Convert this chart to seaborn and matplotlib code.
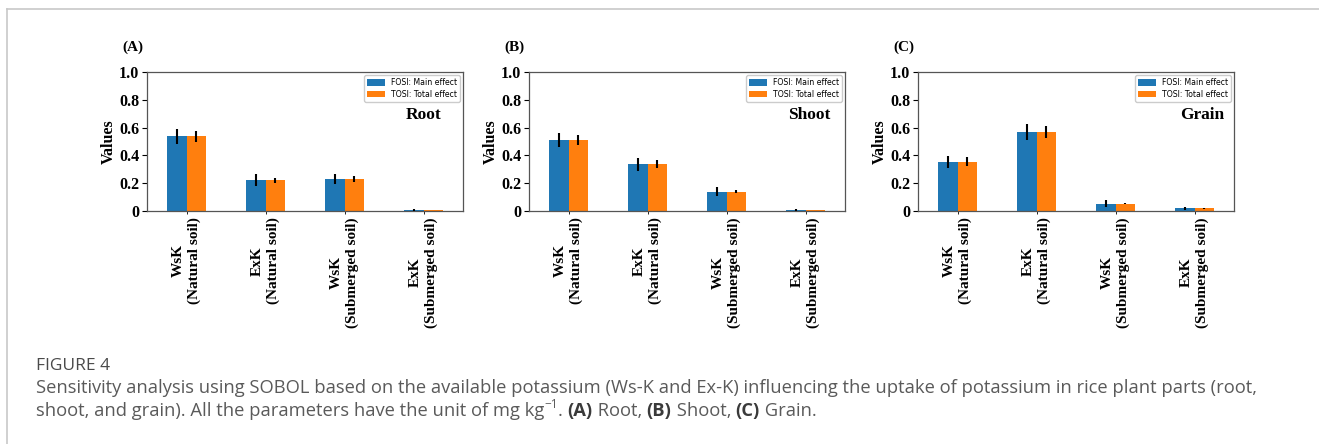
import matplotlib
matplotlib.use("Agg")
import matplotlib.pyplot as plt
import seaborn as sns
import pandas as pd
from matplotlib.lines import Line2D
from matplotlib.patches import Patch
from matplotlib.container import BarContainer

# ---------------- data ----------------
categories = ["WsK\n(Natural soil)", "ExK\n(Natural soil)",
              "WsK\n(Submerged soil)", "ExK\n(Submerged soil)"]
series_names = ["FOSI: Main effect", "TOSI: Total effect"]
panel_letters = ["(A)", "(B)", "(C)"]
panel_names = ["Root", "Shoot", "Grain"]

root_fosi = [0.537, 0.222, 0.231, 0.007]
root_tosi = [0.537, 0.222, 0.231, 0.007]
root_fosi_err = [0.053, 0.043, 0.036, 0.006]
root_tosi_err = [0.041, 0.019, 0.020, 0.003]

shoot_fosi = [0.511, 0.337, 0.140, 0.007]
shoot_tosi = [0.511, 0.337, 0.140, 0.007]
shoot_fosi_err = [0.053, 0.046, 0.033, 0.006]
shoot_tosi_err = [0.036, 0.029, 0.014, 0.002]

grain_fosi = [0.354, 0.566, 0.053, 0.019]
grain_tosi = [0.354, 0.566, 0.053, 0.019]
grain_fosi_err = [0.045, 0.058, 0.024, 0.010]
grain_tosi_err = [0.033, 0.044, 0.006, 0.004]

y_ticks = [0, 0.2, 0.4, 0.6, 0.8, 1.0]
y_tick_labels = ["0", "0.2", "0.4", "0.6", "0.8", "1.0"]

panels = [
    (root_fosi, root_tosi, root_fosi_err, root_tosi_err),
    (shoot_fosi, shoot_tosi, shoot_fosi_err, shoot_tosi_err),
    (grain_fosi, grain_tosi, grain_fosi_err, grain_tosi_err),
]

# ---------------- style ----------------
colors = ["#1f77b4", "#ff7f0e"]
serif = ["Liberation Serif", "DejaVu Serif"]
W, H = 1319, 444
fig = plt.figure(figsize=(W / 100, H / 100), dpi=100)

ax_lefts = [147, 529, 918]
ax_width = 316
ax_top, ax_bottom = 72, 211
name_x = [0.876, 0.886, 0.899]

for i, (fosi, tosi, fe, te) in enumerate(panels):
    left = ax_lefts[i]
    ax = fig.add_axes([left / W, 1 - ax_bottom / H, ax_width / W, (ax_bottom - ax_top) / H])
    df = pd.DataFrame({
        "cat": categories * 2,
        "val": list(fosi) + list(tosi),
        "series": [series_names[0]] * 4 + [series_names[1]] * 4,
    })
    sns.barplot(data=df, x="cat", y="val", hue="series", hue_order=series_names,
                order=categories, palette=colors, width=0.5, errorbar=None,
                linewidth=0, saturation=1, ax=ax, legend=False)
    errs = [fe, te]
    bar_conts = [c for c in ax.containers if isinstance(c, BarContainer)]
    for k, cont in enumerate(bar_conts):
        xs = [p.get_x() + p.get_width() / 2 for p in cont.patches]
        ys = [p.get_height() for p in cont.patches]
        ax.errorbar(xs, ys, yerr=errs[k], fmt="none", ecolor="black",
                    elinewidth=1.5, capsize=0, zorder=3)
    ax.set_xlim(-0.5, 3.5)
    ax.set_ylim(0, 1.0)
    ax.set_yticks(y_ticks)
    ax.set_yticklabels(y_tick_labels, fontfamily=serif, fontweight="bold", fontsize=11.5)
    ax.set_xticks(range(len(categories)))
    ax.set_xticklabels(categories, rotation=90, fontfamily=serif, fontweight="bold",
                       fontsize=11, ha="center", va="top")
    ax.tick_params(axis="x", length=2.5, width=0.6, pad=2)
    ax.tick_params(axis="y", length=3.5, width=0.8, pad=2)
    ax.set_xlabel("")
    ax.set_ylabel("Values", fontfamily=serif, fontweight="bold", fontsize=11.5, labelpad=2)
    for sp in ax.spines.values():
        sp.set_color("#555555")
        sp.set_linewidth(0.9)
    handles = [Patch(facecolor=colors[0]), Patch(facecolor=colors[1])]
    ax.legend(handles, series_names, loc="upper right", fontsize=5.6,
              handlelength=2.3, handleheight=0.85, borderpad=0.4,
              labelspacing=0.3, handletextpad=0.7, borderaxespad=0.4,
              framealpha=1, edgecolor="#cccccc", fancybox=True)
    ax.text(-0.079, 1.18, panel_letters[i], transform=ax.transAxes,
            fontfamily=serif, fontweight="bold", fontsize=11, ha="left", va="center")
    ax.text(name_x[i], 0.69, panel_names[i], transform=ax.transAxes,
            fontfamily=serif, fontweight="bold", fontsize=12.5, ha="center", va="center")

# ---------------- frame ----------------
fig.add_artist(Line2D([7 / W, 1], [1 - 9 / H, 1 - 9 / H], color="#c8c8c8", lw=1.2))
fig.add_artist(Line2D([7 / W, 7 / W], [0, 1 - 9 / H], color="#c8c8c8", lw=1.2))

# ---------------- caption ----------------
cap_font = ["Open Sans", "DejaVu Sans"]
cap_col = "#5a5a5a"
cap_size = 13.2
x0 = 36
fig.text(x0 / W, 1 - 366 / H, "FIGURE 4", fontfamily=cap_font, fontsize=12.5,
         color="#4a4a4a", ha="left", va="center")
fig.text(x0 / W, 1 - 388 / H,
         "Sensitivity analysis using SOBOL based on the available potassium (Ws-K and Ex-K) "
         "influencing the uptake of potassium in rice plant parts (root,",
         fontfamily=cap_font, fontsize=cap_size, color=cap_col, ha="left", va="center")

fig.canvas.draw()
renderer = fig.canvas.get_renderer()
pieces = [
    ("shoot, and grain). All the parameters have the unit of mg kg", "normal", 0),
    ("\u22121", "normal", 1),
    (". ", "normal", 0),
    ("(A)", "bold", 0),
    (" Root, ", "normal", 0),
    ("(B)", "bold", 0),
    (" Shoot, ", "normal", 0),
    ("(C)", "bold", 0),
    (" Grain.", "normal", 0),
]
x_px = x0
y_line = 1 - 411 / H
for txt, wt, sup in pieces:
    if sup:
        t = fig.text(x_px / W, y_line + 7 / H, txt, fontfamily=cap_font, fontsize=8.5,
                     color=cap_col, ha="left", va="center")
    else:
        t = fig.text(x_px / W, y_line, txt, fontfamily=cap_font, fontsize=cap_size,
                     fontweight=wt, color="#3a3a3a" if wt == "bold" else cap_col,
                     ha="left", va="center")
    bb = t.get_window_extent(renderer=renderer)
    x_px += bb.width

fig.savefig("out.png", dpi=100)
